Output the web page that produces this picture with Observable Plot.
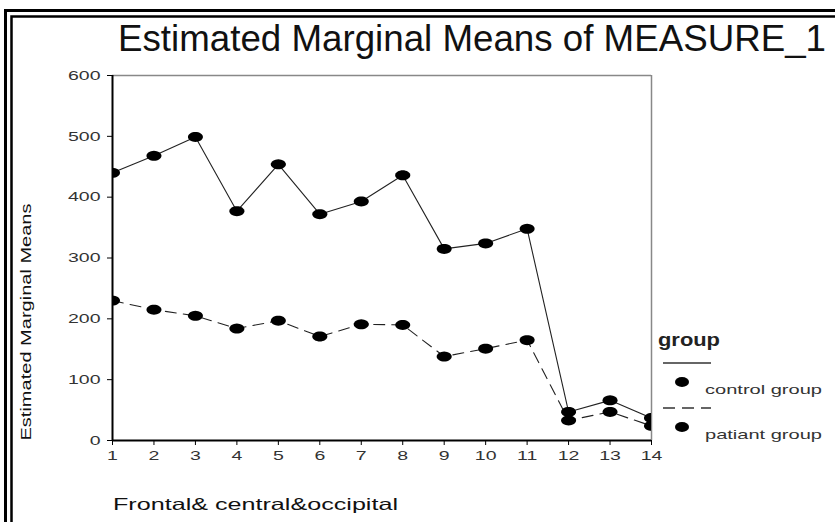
<!DOCTYPE html>
<html><head><meta charset="utf-8">
<script src="https://cdn.jsdelivr.net/npm/d3@7"></script>
<script src="https://cdn.jsdelivr.net/npm/@observablehq/plot@0.6"></script>
<style>
html,body{margin:0;padding:0;background:#fff;}
#wrap{position:relative;width:835px;height:522px;overflow:hidden;font-family:"Liberation Sans",Arial,sans-serif;background:#fff;}
#chart{position:absolute;left:0;top:0;}
#deco{position:absolute;left:0;top:0;}
</style></head>
<body>
<div id="wrap"><div id="chart"></div><svg id="deco" width="835" height="522" xmlns="http://www.w3.org/2000/svg"></svg></div>
<script>
const titleText = "Estimated Marginal Means of MEASURE_1";
const yLabel = "Estimated Marginal Means";
const xLabel = "Frontal& central&occipital";
const legendTitle = "group";
const groups = ["control group", "patiant group"];
const positions = [1, 2, 3, 4, 5, 6, 7, 8, 9, 10, 11, 12, 13, 14];
const controlMeans = [440, 468, 499, 377, 454, 372, 393, 436, 315, 324, 348, 47, 66, 37];
const patientMeans = [230, 215, 205, 184, 197, 171, 191, 190, 138, 151, 165, 33, 47, 24];
const yTicks = [0, 100, 200, 300, 400, 500, 600];
const xTicks = positions;

const rows = [
  ...positions.map((p, i) => ({pos: p, value: controlMeans[i], group: groups[0]})),
  ...positions.map((p, i) => ({pos: p, value: patientMeans[i], group: groups[1]}))
];

const ellipse = {
  draw(ctx) {
    const rx = 7.5, ry = 5, n = 32;
    for (let i = 0; i < n; i++) {
      const a = 2 * Math.PI * i / n;
      const px = rx * Math.cos(a), py = ry * Math.sin(a);
      i ? ctx.lineTo(px, py) : ctx.moveTo(px, py);
    }
    ctx.closePath();
  }
};

const chart = Plot.plot({
  width: 835,
  height: 522,
  marginTop: 75,
  marginBottom: 82,
  marginLeft: 112,
  marginRight: 184,
  style: {fontFamily: "'Liberation Sans', Arial, sans-serif", background: "transparent"},
  x: {domain: [1, 14]},
  y: {domain: [0, 600]},
  marks: [
    Plot.ruleY([600], {stroke: "#888", strokeWidth: 1.5}),
    Plot.ruleX([14], {stroke: "#888", strokeWidth: 1.5}),
    Plot.line(rows.filter(d => d.group === groups[0]), {x: "pos", y: "value", stroke: "#222", strokeWidth: 1.1, clip: "frame"}),
    Plot.line(rows.filter(d => d.group === groups[1]), {x: "pos", y: "value", stroke: "#222", strokeWidth: 1.1, strokeDasharray: "11,7", clip: "frame"}),
    Plot.dot(rows, {x: "pos", y: "value", symbol: ellipse, fill: "black", stroke: "none", clip: "frame"}),
    Plot.ruleY([0], {stroke: "black", strokeWidth: 2}),
    Plot.ruleX([1], {stroke: "black", strokeWidth: 2}),
    Plot.axisY({ticks: yTicks, tickSize: 5, tickPadding: 7, fontSize: 13, label: null, stroke: "black", fill: "#333"}),
    Plot.axisX({ticks: xTicks, tickSize: 5, tickPadding: 5, fontSize: 13, label: null, stroke: "black", fill: "#333", tickFormat: d => String(d)})
  ]
});
document.getElementById("chart").appendChild(chart);

function stretch(t, k) {
  const L = t.getComputedTextLength();
  t.setAttribute("textLength", L * k);
  t.setAttribute("lengthAdjust", "spacingAndGlyphs");
}
chart.querySelectorAll('g[aria-label$="tick label"] text').forEach(t => stretch(t, 1.5));

const deco = d3.select("#deco");
// double border
deco.append("path").attr("d", "M5.5,522V10.5H835").attr("fill", "none").attr("stroke", "black").attr("stroke-width", 3);
deco.append("path").attr("d", "M11.5,522V16.5H835").attr("fill", "none").attr("stroke", "black").attr("stroke-width", 2.5);

deco.append("text").attr("x", 118).attr("y", 51).attr("font-size", 36).attr("fill", "#111").text(titleText)
  .attr("textLength", 708).attr("lengthAdjust", "spacingAndGlyphs");

const xl = deco.append("text").attr("x", 113).attr("y", 510).attr("font-size", 16.5).attr("fill", "#111").text(xLabel);
xl.attr("textLength", 285).attr("lengthAdjust", "spacingAndGlyphs");

const yl = deco.append("text").attr("transform", "translate(31,322) rotate(-90)").attr("text-anchor", "middle")
  .attr("font-size", 15).attr("fill", "#111").text(yLabel);
yl.attr("textLength", 237).attr("lengthAdjust", "spacingAndGlyphs");

// legend
const lg = deco.append("g");
lg.append("text").attr("x", 658).attr("y", 346).attr("font-size", 18).attr("font-weight", "bold").attr("fill", "#222")
  .text(legendTitle).attr("textLength", 62).attr("lengthAdjust", "spacingAndGlyphs");
const dashes = [null, "12,7"];
const rowsY = [363, 408];
groups.forEach((g, i) => {
  const y0 = rowsY[i];
  const ln = lg.append("line").attr("x1", 663).attr("x2", 711).attr("y1", y0).attr("y2", y0).attr("stroke", "#333").attr("stroke-width", 1.3);
  if (dashes[i]) ln.attr("stroke-dasharray", dashes[i]);
  lg.append("ellipse").attr("cx", 682).attr("cy", y0 + 19).attr("rx", 7).attr("ry", 5).attr("fill", "black");
  lg.append("text").attr("x", 705).attr("y", y0 + 31).attr("font-size", 13).attr("fill", "#333")
    .text(g).attr("textLength", 117).attr("lengthAdjust", "spacingAndGlyphs");
});
</script>
</body></html>
